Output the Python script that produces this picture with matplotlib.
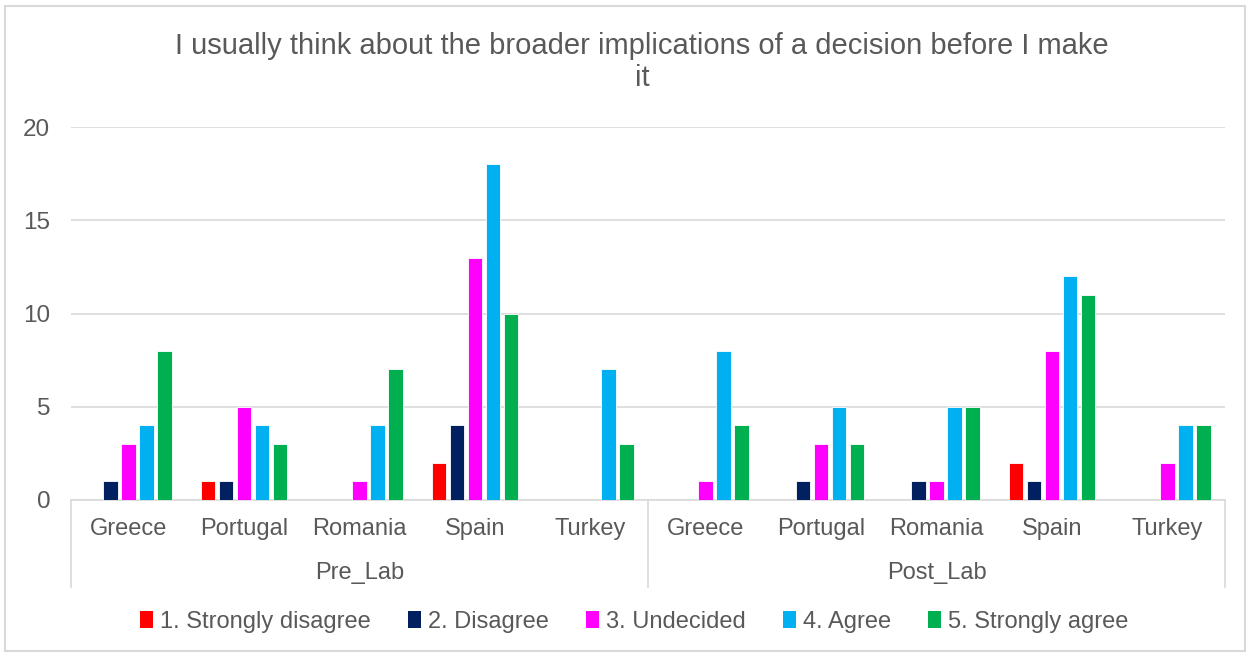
import numpy as np
import matplotlib.pyplot as plt
from matplotlib.patches import Rectangle, Patch

plt.rcParams['font.family'] = ['Liberation Sans', 'DejaVu Sans']

countries = ["Greece", "Portugal", "Romania", "Spain", "Turkey"]
phases = ["Pre_Lab", "Post_Lab"]
responses = ["1. Strongly disagree", "2. Disagree", "3. Undecided",
             "4. Agree", "5. Strongly agree"]
colors = ["#FF0000", "#002060", "#FF00FF", "#00B0F0", "#00B050"]

# counts per response, ordered Pre_Lab countries then Post_Lab countries
strongly_disagree = [0, 1, 0, 2, 0, 0, 0, 0, 2, 0]
disagree = [1, 1, 0, 4, 0, 0, 1, 1, 1, 0]
undecided = [3, 5, 1, 13, 0, 1, 3, 1, 8, 2]
agree = [4, 4, 4, 18, 7, 8, 5, 5, 12, 4]
strongly_agree = [8, 3, 7, 10, 3, 4, 3, 5, 11, 4]
series = [strongly_disagree, disagree, undecided, agree, strongly_agree]

title = "I usually think about the broader implications of a decision before I make\nit"

text_col = "#595959"
grid_col = "#D9D9D9"

W, H = 1251, 656
fig = plt.figure(figsize=(W / 100, H / 100), dpi=100)
ax = fig.add_axes([71 / W, 1 - 500 / H, (1225 - 71) / W, (500 - 127) / H])

n_cat = len(countries) * len(phases)
x = np.arange(n_cat)
step = 0.156
bw = 0.126
for k, (vals, col, lab) in enumerate(zip(series, colors, responses)):
    ax.bar(x + (k - 2) * step, vals, width=bw, color=col, edgecolor="white",
           linewidth=0.6, label=lab, zorder=3)

ax.set_xlim(-0.5, n_cat - 0.5)
ax.set_ylim(0, 20)
ax.set_yticks([0, 5, 10, 15, 20])
ax.yaxis.grid(True, color=grid_col, linewidth=1.2, zorder=0)
ax.tick_params(axis="y", length=0, labelsize=17.5, labelcolor=text_col, pad=15)
ax.set_xticks([])
for side in ["top", "right", "left"]:
    ax.spines[side].set_visible(False)
ax.spines["bottom"].set_color(grid_col)
ax.spines["bottom"].set_linewidth(1.2)

# two-level category axis
trans = ax.get_xaxis_transform()
y_low = -(587 - 500) / 373
for xs in [-0.5, 4.5, 9.5]:
    ax.plot([xs, xs], [0, y_low], transform=trans, color=grid_col,
            linewidth=1.2, clip_on=False)
labels = countries * len(phases)
for i, lab in enumerate(labels):
    ax.text(i, -(529 - 500) / 373, lab, transform=trans, ha="center",
            va="center", fontsize=17, color=text_col)
for j, ph in enumerate(phases):
    ax.text(j * 5 + 2, -(573 - 500) / 373, ph, transform=trans, ha="center",
            va="center", fontsize=17, color=text_col)

fig.text(642 / W, 1 - 62 / H, title, ha="center", va="center",
         fontsize=21, color=text_col, linespacing=1.2)

handles = [Patch(facecolor=c, edgecolor="none", label=l)
           for c, l in zip(colors, responses)]
fig.legend(handles=handles, loc="center", bbox_to_anchor=(634 / W, 1 - 622 / H),
           ncol=5, frameon=False, fontsize=17, handlelength=0.55,
           handleheight=0.7, handletextpad=0.3, columnspacing=1.57,
           labelcolor=text_col)

fig.patches.append(Rectangle((5 / W, 5 / H), (W - 11) / W, (H - 11) / H,
                             transform=fig.transFigure, fill=False,
                             edgecolor=grid_col, linewidth=1.5))

fig.savefig("out.png", dpi=100)
